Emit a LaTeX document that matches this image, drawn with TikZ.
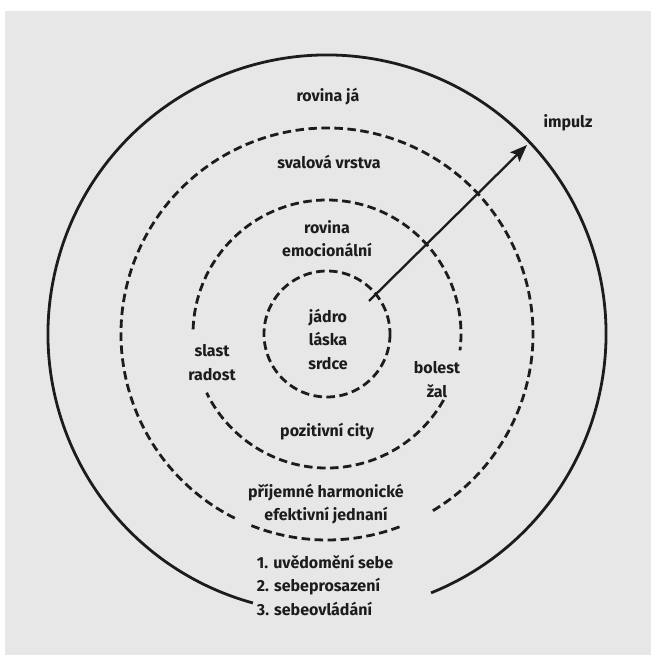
\documentclass[tikz,border=0pt]{standalone}
\usepackage{fontspec}
\setmainfont{Fira Sans}
\usepackage{tikz}
\usetikzlibrary{arrows.meta}
\usepackage{xcolor}
\definecolor{paper}{RGB}{231,231,231}
\definecolor{ink}{RGB}{28,28,28}

\begin{document}
\begin{tikzpicture}[x=1pt,y=1pt,yscale=-1,xscale=1,
  lbl/.style={inner sep=0.75pt,text=ink,align=center,font=\fontsize{16}{23.5}\selectfont\bfseries},
  ring/.style={draw=ink,line width=2.8,dash pattern={on 8.5pt off 4.5pt}}]
\useasboundingbox (0,0) rectangle (651,655);
%Shape: Rectangle (paper)
\fill [paper] (5,11) rectangle (651,655);

%Shape: Arc (outer, solid)
\draw [draw=ink,line width=2.8] (327,334) ++(105.4:279) arc (105.4:428.1:279);
%Shape: Arc (second ring)
\draw [ring] (327,334) ++(116.6:206) arc (116.6:420.2:206);
\draw [ring] (327,334) ++(69.4:206) arc (69.4:111.9:206);
%Shape: Arc (third ring)
\draw [ring] (327,334) ++(182:134) arc (182:367:134);
\draw [ring] (327,334) ++(29.5:134) arc (29.5:154:134);
%Shape: Circle (core)
\draw [ring] (327,334) circle (63);

%Straight Lines (impulz)
\coordinate (impulzStart) at (369,301);
\coordinate (impulzTip) at (527,145);
\draw [draw=ink,line width=2.3,-{Stealth[length=17pt,width=13pt,inset=3pt]}] (impulzStart) -- (impulzTip);

% Text Node (base = last line)
\draw (328,102) node (rovinaJa) [lbl,anchor=base] {rovina já};
% Text Node
\draw (568,128) node (impulz) [lbl,anchor=base] {impulz};
% Text Node
\draw (329,168) node (svalova) [lbl,anchor=base] {svalová vrstva};
% Text Node
\draw (327,256.5) node (emocni) [lbl,anchor=base] {rovina\\emocionální};
% Text Node
\draw (328,369) node (jadro) [lbl,anchor=base] {jádro\\láska\\srdce};
% Text Node
\draw (212,380) node (slast) [lbl,anchor=base] {slast\\radost};
% Text Node
\draw (437,397) node (bolest) [lbl,anchor=base] {bolest\\žal};
% Text Node
\draw (327,436) node (pozitivni) [lbl,anchor=base] {pozitivní city};
% Text Node
\draw (326,520.5) node (prijemne) [lbl,anchor=base] {příjemné harmonické\\efektivní jednaní};
% Text Node
\draw (256,615) node (kroky) [lbl,anchor=base west,align=left] {1. uvědomění sebe\\2. sebeprosazení\\3. sebeovládání};

\end{tikzpicture}
\end{document}
